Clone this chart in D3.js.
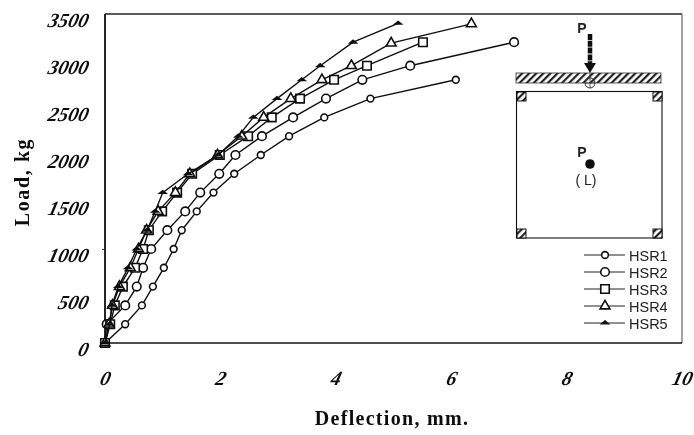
<!DOCTYPE html>
<html><head><meta charset="utf-8">
<script src="https://cdn.jsdelivr.net/npm/d3@7/dist/d3.min.js"></script>
<style>html,body{margin:0;padding:0;background:#fff}svg{display:block}</style></head>
<body><svg id="c" width="694" height="435"></svg>
<script>
const xTicks=[0,2,4,6,8,10];
const yTicks=[0,500,1000,1500,2000,2500,3000,3500];
const seriesNames=["HSR1","HSR2","HSR3","HSR4","HSR5"];
const hsr1X=[0,0.35,0.64,0.83,1.02,1.19,1.33,1.59,1.88,2.24,2.70,3.19,3.80,4.60,6.08];
const hsr1Y=[0,200,400,600,800,1000,1200,1400,1600,1800,2000,2200,2400,2600,2800];
const hsr2X=[0,0.03,0.35,0.55,0.66,0.80,1.08,1.39,1.65,1.98,2.26,2.72,3.26,3.83,4.46,5.29,7.09];
const hsr2Y=[0,200,400,600,800,1000,1200,1400,1600,1800,2000,2200,2400,2600,2800,2950,3200];
const hsr3X=[0,0.09,0.17,0.31,0.52,0.66,0.76,0.99,1.25,1.51,1.99,2.48,2.89,3.38,3.97,4.54,5.51];
const hsr3Y=[0,200,400,600,800,1000,1200,1400,1600,1800,2000,2200,2400,2600,2800,2950,3200];
const hsr4X=[0,0.07,0.13,0.25,0.44,0.58,0.72,0.92,1.22,1.47,1.95,2.37,2.75,3.22,3.76,4.27,4.96,6.35];
const hsr4Y=[0,200,400,600,800,1000,1200,1400,1600,1800,2000,2200,2400,2600,2800,2950,3190,3395];
const hsr5X=[0,0.08,0.12,0.23,0.40,0.55,0.73,0.87,1.00,1.44,1.96,2.31,2.57,2.98,3.41,3.73,4.30,5.08];
const hsr5Y=[0,200,400,600,800,1000,1200,1400,1600,1800,2000,2200,2400,2600,2800,2950,3200,3400];
const allX=[hsr1X,hsr2X,hsr3X,hsr4X,hsr5X], allY=[hsr1Y,hsr2Y,hsr3Y,hsr4Y,hsr5Y];

const svg=d3.select("#c");
const defs=svg.append("defs");
defs.append("filter").attr("id","soft").attr("x","-5%").attr("y","-5%").attr("width","110%").attr("height","110%")
  .append("feGaussianBlur").attr("stdDeviation",0.4);
const pat=defs.append("pattern").attr("id","hatch").attr("width",5).attr("height",5)
  .attr("patternUnits","userSpaceOnUse").attr("patternTransform","rotate(45)");
pat.append("rect").attr("width",5).attr("height",5).attr("fill","#fff");
pat.append("rect").attr("width",2.2).attr("height",5).attr("fill","#222");

const root=svg.append("g").attr("filter","url(#soft)");
const x=d3.scaleLinear().domain([0,10]).range([105,682]);
const y=d3.scaleLinear().domain([0,3500]).range([343,14]);
const serif="'Liberation Serif',serif";

// frame
root.append("path").attr("d",`M105,14H682`).attr("stroke","#222").attr("stroke-width",1.4);
root.append("path").attr("d",`M682,14V343`).attr("stroke","#666").attr("stroke-width",1.2);
root.append("path").attr("d",`M105,343H682`).attr("stroke","#111").attr("stroke-width",1.6);
root.append("path").attr("d",`M105,14V343`).attr("stroke","#111").attr("stroke-width",1.8);

// axes
const fmt=d3.format("d");
const ax=root.append("g").attr("transform","translate(0,343)").call(d3.axisBottom(x).tickValues(xTicks).tickFormat(fmt).tickSize(0).tickPadding(30));
const ay=root.append("g").attr("transform","translate(105,0)").call(d3.axisLeft(y).tickValues(yTicks).tickFormat(fmt).tickSize(0).tickPadding(15));
[ax,ay].forEach(a=>{a.select(".domain").remove();
  a.selectAll("text").style("font-family",serif).style("font-weight","bold").style("font-style","italic")
   .style("font-size","20px").style("fill","#111");});
ay.selectAll("text").attr("dy","0.6em").attr("transform","skewX(-14)");
ax.selectAll("text").attr("dy","0.6em").attr("transform","translate(9,0) skewX(-14)");
ay.selectAll(".tick").filter(d=>d===1000).append("line").attr("x1",-3).attr("x2",0).attr("stroke","#333");

root.append("text").attr("x",392).attr("y",425).attr("text-anchor","middle").style("font-family",serif)
  .style("font-weight","bold").style("font-size","20px").style("letter-spacing","1.3px").style("fill","#111").text("Deflection, mm.");
root.append("text").attr("transform","translate(29,182) rotate(-90)").attr("text-anchor","middle").style("font-family",serif)
  .style("font-weight","bold").style("font-size","20px").style("letter-spacing","1.6px").style("fill","#111").text("Load, kg");

// markers
function marker(g,i,px,py){
  const sw=1.6, s="#111", f="#fff";
  if(i===0) g.append("path").attr("d",d3.symbol(d3.symbolCircle,36)()).attr("transform",`translate(${px},${py})`).attr("fill",f).attr("stroke",s).attr("stroke-width",sw);
  if(i===1) g.append("circle").attr("cx",px).attr("cy",py).attr("r",4.3).attr("fill",f).attr("stroke",s).attr("stroke-width",sw);
  if(i===2) g.append("path").attr("d",d3.symbol(d3.symbolSquare,72)()).attr("transform",`translate(${px},${py})`).attr("fill",f).attr("stroke",s).attr("stroke-width",sw);
  if(i===3) g.append("path").attr("d",d3.symbol(d3.symbolTriangle,42)()).attr("transform",`translate(${px},${py})`).attr("fill",f).attr("stroke",s).attr("stroke-width",sw);
  if(i===4) g.append("path").attr("d",d3.symbol(d3.symbolTriangle,22)()).attr("transform",`translate(${px},${py}) scale(1.5,0.7)`).attr("fill",s).attr("stroke","none");
}
const line=d3.line();
allX.forEach((xs,i)=>{
  const g=root.append("g");
  const pts=xs.map((v,k)=>[x(v),y(allY[i][k])]);
  g.append("path").attr("d",line(pts)).attr("fill","none").attr("stroke","#111").attr("stroke-width",1.4);
  pts.forEach(p=>marker(g,i,p[0],p[1]));
});

// inset specimen diagram
const d=root.append("g");
d.append("rect").attr("x",516).attr("y",73).attr("width",145).attr("height",10).attr("fill","url(#hatch)").attr("stroke","#333").attr("stroke-width",0.8);
d.append("rect").attr("x",516.5).attr("y",91.5).attr("width",145.5).attr("height",146.5).attr("fill","none").attr("stroke","#111").attr("stroke-width",1.1);
[[517,92],[653,92],[517,229],[653,229]].forEach(c=>d.append("rect").attr("x",c[0]).attr("y",c[1]).attr("width",9).attr("height",9).attr("fill","url(#hatch)").attr("stroke","#111").attr("stroke-width",1));
d.append("line").attr("x1",590).attr("x2",590).attr("y1",34).attr("y2",66).attr("stroke","#111").attr("stroke-width",4.5).attr("stroke-dasharray","6 0.8");
d.append("path").attr("d","M584,63L596,63L590,73Z").attr("fill","#111");
d.append("circle").attr("cx",590).attr("cy",83).attr("r",5).attr("fill","none").attr("stroke","#333").attr("stroke-width",1);
d.append("line").attr("x1",585).attr("x2",595).attr("y1",83).attr("y2",83).attr("stroke","#333").attr("stroke-width",0.8);
d.append("line").attr("x1",590).attr("x2",590).attr("y1",73).attr("y2",88).attr("stroke","#333").attr("stroke-width",0.8);
d.append("circle").attr("cx",590).attr("cy",164).attr("r",4.8).attr("fill","#111");
const sans="'Liberation Sans',sans-serif";
d.append("text").attr("x",582).attr("y",33).attr("text-anchor","middle").style("font-family",sans).style("font-weight","bold").style("font-size","14px").style("fill","#222").text("P");
d.append("text").attr("x",582).attr("y",157).attr("text-anchor","middle").style("font-family",sans).style("font-weight","bold").style("font-size","14px").style("fill","#222").text("P");
d.append("text").attr("x",586).attr("y",185).attr("text-anchor","middle").style("font-family",sans).style("font-size","14px").style("fill","#222").text("( L)");

// legend
const legendY=d3.scalePoint().domain(seriesNames).range([255,323]);
seriesNames.forEach((n,i)=>{
  const yy=legendY(n), g=root.append("g");
  g.append("line").attr("x1",584).attr("x2",625).attr("y1",yy).attr("y2",yy).attr("stroke","#222").attr("stroke-width",1.1);
  marker(g,i,605,yy);
  g.append("text").attr("x",629).attr("y",yy+6).style("font-family",sans).style("font-size","14.5px").style("fill","#222").text(n);
});
</script></body></html>
